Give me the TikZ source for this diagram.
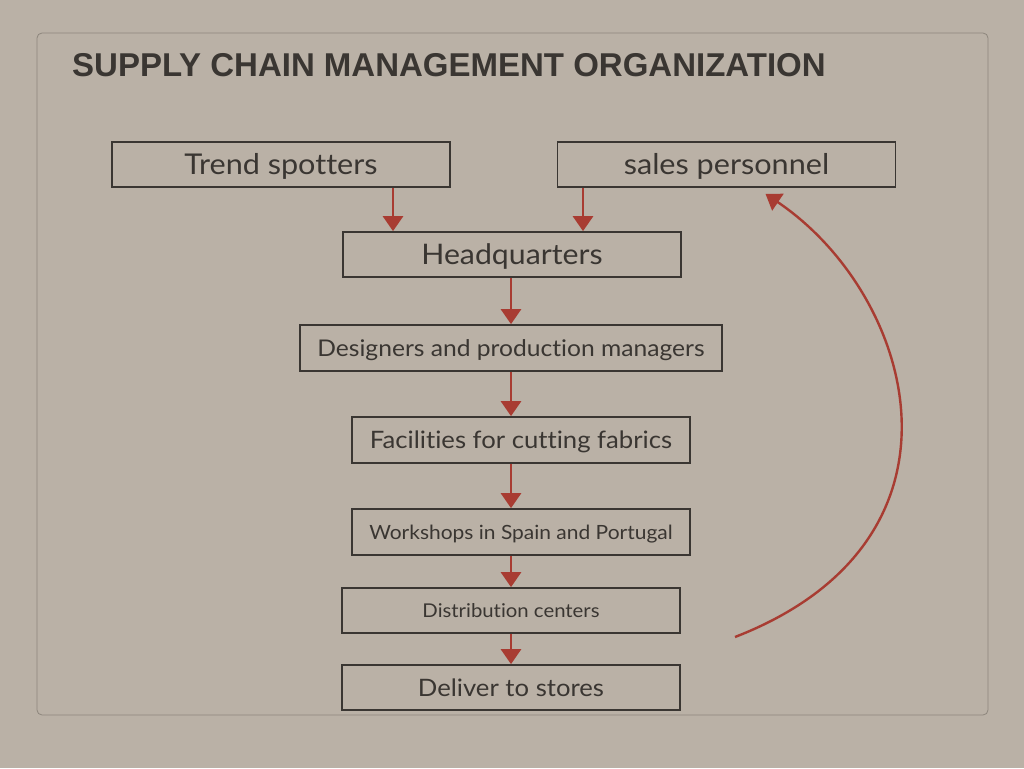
\documentclass[tikz,border=0pt]{standalone}
\usepackage{fontspec}
\setmainfont{Lato}[FakeStretch=1.07, Ligatures=NoCommon]
\newfontfamily\titlefont{Liberation Sans}
\usetikzlibrary{arrows.meta,positioning}
\definecolor{paper}{RGB}{186,177,166}
\definecolor{ink}{RGB}{58,54,50}
\definecolor{arrowred}{RGB}{168,60,50}

\begin{document}
\begin{tikzpicture}[x=1pt,y=-1pt,
  box/.style={draw=ink, line width=1.7pt, text=ink, inner sep=0pt,
    minimum width=338pt, minimum height=45pt,
    font=\fontsize{#1}{#1}\selectfont, text height={0.72*#1pt}, text depth=0pt},
  flow/.style={arrowred, line width=2.8pt, -{Triangle[width=20pt,length=15pt]}},
  back/.style={arrowred, line width=2.4pt, -{Triangle[width=20pt,length=15pt]}}]
% paper and frame
\fill[paper] (0,0) rectangle (1024,768);
\useasboundingbox (0,0) rectangle (1024,768);
\draw[ink!35!paper, line width=0.8pt, rounded corners=5pt] (37,33) rectangle (988,715);

% title
\node[anchor=west, text=ink, inner sep=0pt, font=\titlefont\bfseries\fontsize{33}{36}\selectfont] (title) at (72,65) {SUPPLY CHAIN MANAGEMENT ORGANIZATION};

% boxes
\node[box=28.6] (trend) at (281,164.5) {Trend spotters};
\node[box=28.6] (sales) at (726.5,164.5) {sales personnel};
\node[box=28.3] (hq) at (512,254.5) {Headquarters};
\node[box=23, minimum width=422pt, minimum height=46pt] (design) at (511,348) {Designers and production managers};
\node[box=24, minimum height=46pt] (cut) at (521,440) {Facilities for cutting fabrics};
\node[box=19.6, minimum height=46pt] (shops) at (521,532) {Workshops in Spain and Portugal};
\node[box=19] (dist) at (511,610.5) {Distribution centers};
\node[box=24] (deliver) at (511,687.5) {Deliver to stores};

% arrows
\coordinate (tx) at (393,0);
\coordinate (sx) at (583,0);
\coordinate (mx) at (511,0);
\coordinate (loopstart) at (735,637);
\draw[flow] (trend.south -| tx) -- (hq.north -| tx);
\draw[flow] (sales.south -| sx) -- (hq.north -| sx);
\draw[flow] (hq.south -| mx) -- (design.north -| mx);
\draw[flow] (design.south -| mx) -- (cut.north -| mx);
\draw[flow] (cut.south -| mx) -- (shops.north -| mx);
\draw[flow] (shops.south -| mx) -- (dist.north -| mx);
\draw[flow] (dist.south -| mx) -- (deliver.north -| mx);

% feedback loop
\draw[back] (loopstart) .. controls (985,540) and (915,295) .. ([xshift=39pt,yshift=-6pt]sales.south);
\end{tikzpicture}
\end{document}
